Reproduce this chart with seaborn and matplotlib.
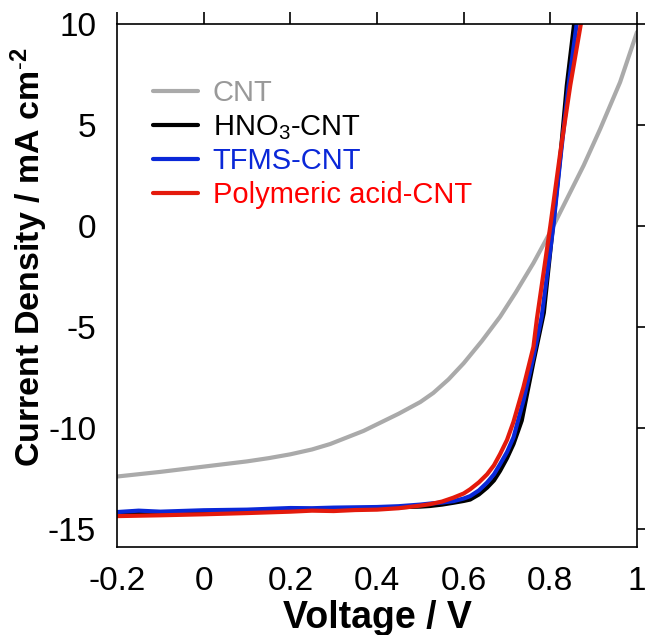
import numpy as np
import pandas as pd
import matplotlib
matplotlib.use("Agg")
import matplotlib.pyplot as plt
import seaborn as sns

# ---- data ----
cnt_v = [-0.2, -0.1, 0.0, 0.1, 0.15, 0.2, 0.25, 0.292, 0.369, 0.45, 0.5, 0.53, 0.565, 0.6, 0.642, 0.684, 0.72, 0.761,
         0.8, 0.838, 0.877, 0.915, 0.961, 1.0]
cnt_j = [-12.41, -12.18, -11.92, -11.66, -11.5, -11.31, -11.07, -10.8, -10.15, -9.3, -8.72, -8.27, -7.6, -6.8, -5.7,
         -4.5, -3.3, -1.84, -0.3, 1.33, 3.0, 4.8, 7.12, 9.6]

hno3_v = [-0.2, -0.1, 0.0, 0.1, 0.2, 0.3, 0.4, 0.45, 0.5, 0.522, 0.55, 0.576, 0.6, 0.615, 0.635, 0.654, 0.67, 0.684,
          0.7, 0.715, 0.734, 0.761, 0.785, 0.806, 0.824, 0.838, 0.856]
hno3_j = [-14.27, -14.24, -14.2, -14.13, -14.07, -14.03, -13.97, -13.93, -13.9, -13.87, -13.8, -13.71, -13.62, -13.55,
          -13.3, -12.96, -12.6, -12.13, -11.5, -10.8, -9.64, -6.74, -4.3, 0.0, 3.64, 6.96, 10.2]

tfms_v = [-0.2, -0.15, -0.1, 0.0, 0.1, 0.2, 0.25, 0.3, 0.4, 0.45, 0.5, 0.522, 0.55, 0.576, 0.6, 0.615, 0.635, 0.654,
          0.67, 0.684, 0.7, 0.715, 0.738, 0.761, 0.78, 0.807, 0.824, 0.842, 0.862]
tfms_j = [-14.17, -14.1, -14.15, -14.08, -14.05, -13.97, -13.98, -13.95, -13.92, -13.88, -13.8, -13.75, -13.7, -13.63,
          -13.5, -13.38, -13.1, -12.71, -12.3, -11.8, -11.2, -10.47, -8.64, -6.49, -4.5, 0.0, 3.5, 6.96, 10.2]

poly_v = [-0.2, -0.1, 0.0, 0.1, 0.2, 0.25, 0.3, 0.35, 0.4, 0.45, 0.5, 0.522, 0.55, 0.576, 0.6, 0.615, 0.635, 0.654,
          0.67, 0.684, 0.7, 0.715, 0.738, 0.761, 0.769, 0.8, 0.823, 0.846, 0.872]
poly_j = [-14.37, -14.33, -14.28, -14.22, -14.15, -14.1, -14.12, -14.07, -14.05, -13.98, -13.85, -13.78, -13.65, -13.46,
          -13.25, -13.04, -12.7, -12.3, -11.85, -11.3, -10.6, -9.7, -7.98, -5.99, -4.6, 0.0, 3.64, 6.96, 10.2]

series = ["CNT", "HNO$_3$-CNT", "TFMS-CNT", "Polymeric acid-CNT"]
line_colors = ["#aaaaaa", "#000000", "#0a28d8", "#e41a0c"]
text_colors = ["#999999", "#000000", "#0a28d8", "#ff0000"]
x_ticks = [-0.2, 0, 0.2, 0.4, 0.6, 0.8, 1]
x_ticklabels = ["-0.2", "0", "0.2", "0.4", "0.6", "0.8", "1"]
y_ticks = [-15, -10, -5, 0, 5, 10]
y_ticklabels = ["-15", "-10", "-5", "0", "5", "10"]

frames = []
for name, v, j in zip(series, [cnt_v, hno3_v, tfms_v, poly_v], [cnt_j, hno3_j, tfms_j, poly_j]):
    frames.append(pd.DataFrame({"V": v, "J": j, "sample": name}))
df = pd.concat(frames, ignore_index=True)

sns.set_style("white")
plt.rcParams["font.family"] = ["Liberation Sans", "DejaVu Sans"]
plt.rcParams["mathtext.fontset"] = "custom"
plt.rcParams["mathtext.rm"] = "Liberation Sans"
plt.rcParams["mathtext.bf"] = "Liberation Sans:bold"
plt.rcParams["mathtext.default"] = "regular"
plt.rcParams["axes.unicode_minus"] = False
plt.rcParams["text.color"] = "black"
plt.rcParams["axes.labelcolor"] = "black"
plt.rcParams["xtick.color"] = "black"
plt.rcParams["ytick.color"] = "black"

fig = plt.figure(figsize=(6.45, 6.35), dpi=100)
ax = fig.add_axes([117 / 645, 1 - 547 / 635, 520 / 645, 523 / 635])

sns.lineplot(data=df, x="V", y="J", hue="sample", hue_order=series,
             palette=dict(zip(series, line_colors)), estimator=None, sort=False,
             linewidth=3.0, ax=ax, legend=False)

ax.set_xlim(-0.2, 1.0)
ax.set_ylim(-15.9, 10)
ax.set_xticks(x_ticks)
ax.set_xticklabels(x_ticklabels)
ax.set_yticks(y_ticks)
ax.set_yticklabels(y_ticklabels)
ax.tick_params(direction="out", length=9, width=1.2, labelsize=24, top=True, right=True,
               labeltop=False, labelright=False, color="black", labelcolor="black")
ax.tick_params(axis="x", pad=5)
ax.tick_params(axis="y", pad=6)
for s in ax.spines.values():
    s.set_visible(True)
    s.set_color("black")
    s.set_linewidth(1.2)

ax.set_xlabel("Voltage / V", fontsize=27, fontweight="bold", labelpad=2, color="black")
ax.set_ylabel(r"Current Density / mA cm$^{\text{-}\mathbf{2}}$", fontsize=24.5, fontweight="bold", color="black")
ax.yaxis.set_label_coords(-0.129, 0.553)

handles = ax.get_lines()[:4]
leg = ax.legend(handles, series, loc="upper left", bbox_to_anchor=(0.069, 0.895),
                frameon=False, fontsize=21, handlelength=1.55, handletextpad=0.5,
                labelspacing=0.2, borderpad=0, borderaxespad=0)
for t, c in zip(leg.get_texts(), text_colors):
    t.set_color(c)

fig.savefig("out.png", dpi=100)
